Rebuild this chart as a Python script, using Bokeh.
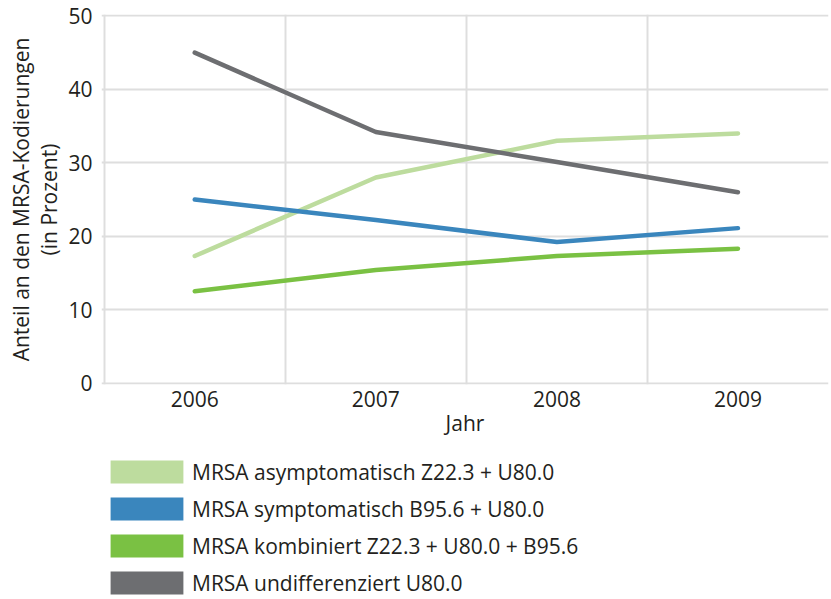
from bokeh.plotting import figure
from bokeh.models import FixedTicker, Legend, LegendItem, Range1d, Title
from bokeh.layouts import column
from bokeh.embed import file_html
from bokeh.resources import INLINE

years = ["2006", "2007", "2008", "2009"]
asymptomatisch = [17.3, 28.0, 33.0, 34.0]
symptomatisch = [25.0, 22.2, 19.2, 21.1]
kombiniert = [12.5, 15.4, 17.3, 18.3]
undifferenziert = [45.0, 34.2, 30.1, 26.0]
y_ticks = [0, 10, 20, 30, 40, 50]

names = ["MRSA asymptomatisch Z22.3 + U80.0",
         "MRSA symptomatisch B95.6 + U80.0",
         "MRSA kombiniert Z22.3 + U80.0 + B95.6",
         "MRSA undifferenziert U80.0"]
colors = ["#bddc9e", "#3a86bd", "#7ac143", "#6d6e71"]
series = [asymptomatisch, symptomatisch, kombiniert, undifferenziert]

FONT = "Open Sans"
TXT = "#231f20"
GRID = "#dedede"

xpos = [i + 0.5 for i in range(len(years))]

p = figure(width=831, height=455, output_backend="svg", toolbar_location=None,
           x_range=Range1d(-0.015, len(years)), y_range=Range1d(-0.2, 50.2))
p.min_border_left = 101
p.min_border_right = 3
p.min_border_top = 14
p.min_border_bottom = 71
p.outline_line_color = None

for vals, col in zip(series, colors):
    p.line(xpos, vals, line_color=col, line_width=4.5, line_cap="round", line_join="round")

# axes
p.xaxis.ticker = FixedTicker(ticks=xpos)
p.xaxis.major_label_overrides = {x: y for x, y in zip(xpos, years)}
p.xaxis.axis_label = "Jahr"
p.yaxis.ticker = FixedTicker(ticks=y_ticks)
p.yaxis.axis_label = "(in Prozent)"
for ax in (p.xaxis, p.yaxis):
    ax.axis_line_color = None
    ax.major_tick_line_color = None
    ax.minor_tick_line_color = None
    ax.major_tick_out = 0
    ax.major_tick_in = 0
    ax.minor_tick_out = 0
    ax.minor_tick_in = 0
    ax.major_label_text_font = FONT
    ax.major_label_text_font_size = "21px"
    ax.major_label_text_color = TXT
    ax.axis_label_text_font = FONT
    ax.axis_label_text_font_size = "21px"
    ax.axis_label_text_font_style = "normal"
    ax.axis_label_text_color = TXT
p.yaxis.major_label_standoff = 9
p.xaxis.major_label_standoff = 6
p.xaxis.axis_label_standoff = -1
p.yaxis.axis_label_standoff = 2

ytitle = Title(text="Anteil an den MRSA-Kodierungen", align="center", standoff=-5, offset=0,
               text_font=FONT, text_font_size="21px", text_font_style="normal",
               text_color=TXT)
p.add_layout(ytitle, "left")

p.xgrid.ticker = FixedTicker(ticks=[0, 1, 2, 3])
p.xgrid.grid_line_color = GRID
p.xgrid.grid_line_width = 2
p.ygrid.ticker = FixedTicker(ticks=y_ticks)
p.ygrid.grid_line_color = GRID
p.ygrid.grid_line_width = 2

# legend in its own strip below the chart
nan = float("nan")
lg = figure(width=831, height=144, output_backend="svg", toolbar_location=None,
            x_range=Range1d(0, 1), y_range=Range1d(0, 1),
            x_axis_location=None, y_axis_location=None)
lg.min_border_left = 98
lg.min_border_top = 2
lg.min_border_right = 0
lg.min_border_bottom = 0
lg.outline_line_color = None
lg.xgrid.visible = False
lg.ygrid.visible = False
items = []
for name, col in zip(names, colors):
    r = lg.quad(left=[nan], right=[nan], top=[nan], bottom=[nan], fill_color=col, line_color=None)
    items.append(LegendItem(label=name, renderers=[r]))
legend = Legend(items=items, location="top_left", glyph_width=91, glyph_height=29,
                spacing=8, padding=0, margin=0, label_standoff=-5,
                border_line_color=None, background_fill_alpha=0,
                label_text_font=FONT, label_text_font_size="21px", label_text_color=TXT)
lg.add_layout(legend, "center")

layout = column(p, lg, spacing=0)
open("out.html", "w").write(file_html(layout, INLINE))
